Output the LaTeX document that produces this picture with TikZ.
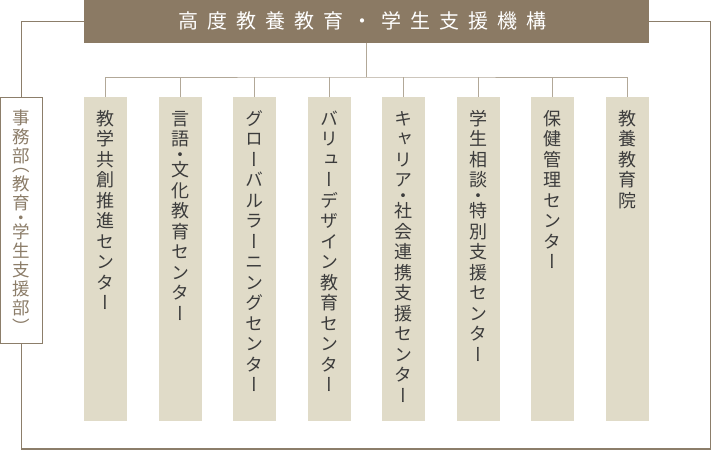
\documentclass[tikz,border=0pt]{standalone}
\usepackage{fontspec}
\usetikzlibrary{positioning}
\newfontfamily\jp{Noto Sans CJK JP}
\newfontfamily\jptate[RawFeature=+vert]{Noto Sans CJK JP}
\definecolor{kikobrown}{RGB}{139,122,100}
\definecolor{framebrown}{RGB}{140,126,106}
\definecolor{busgray}{RGB}{178,168,152}
\definecolor{colfill}{RGB}{224,219,200}
\definecolor{colink}{RGB}{60,60,60}
\definecolor{jimuink}{RGB}{140,125,105}
% vertical text, one slot per character
\newlength\tatepitch
\newcommand\tateslot[3]{\vbox to #1\tatepitch{\vss\hbox to 1em{\hss\raisebox{#2}[0pt][0pt]{#3}\hss}\vss}}
\newcommand\tatechar[1]{%
  \ifx#1・\tateslot{.5}{-.38em}{#1}%
  \else\ifx#1（\tateslot{.5}{-.1em}{#1}%
  \else\ifx#1）\tateslot{.5}{-.65em}{#1}%
  \else\tateslot{1}{-.38em}{#1}\fi\fi\fi}
\def\tateloop#1{\ifx#1\relax\else\tatechar{#1}\expandafter\tateloop\fi}
\newcommand\tate[2]{\setlength\tatepitch{#1}\vbox{\offinterlineskip\expandafter\tateloop#2\relax}}
\def\yokoloop#1{\ifx#1\relax\else#1\kern9pt\expandafter\yokoloop\fi}
\newcommand\yoko[1]{\yokoloop#1\relax}

\begin{document}
\begin{tikzpicture}[x=1pt,y=-1pt,
  kiko/.style={fill=kikobrown, minimum width=565pt, minimum height=42.5pt, inner sep=0, text=white, font=\jp\fontsize{20}{24}\selectfont},
  jimubox/.style={draw=framebrown, line width=1.2pt, fill=white, minimum width=42pt, minimum height=246pt, anchor=north},
  colbox/.style={fill=colfill, minimum width=43pt, minimum height=324pt, anchor=north, inner sep=0},
  tatetext/.style={inner sep=0, text=colink, font=\jptate\fontsize{18}{20}\selectfont},
  frame/.style={draw=framebrown, line width=1.2pt},
  bus/.style={draw=busgray, line width=1pt}]
\useasboundingbox (0,0) rectangle (712,450);
\node[kiko] (kiko) at (366.5,21.25) {\yoko{高度教養教育・学生支援機構}};
\node[jimubox] (jimu) at (21.5,97) {};
\node[tatetext, text=jimuink, font=\jptate\fontsize{17.5}{19}\selectfont, below=11pt of jimu.north] (jimutxt) {\tate{19pt}{事務部（教育・学生支援部）}};
\coordinate (corner) at (710.5,449);
\coordinate (bus) at (366.5,77);
\draw[frame] (kiko.west) -| (jimu.north);
\draw[frame] (jimu.south) |- (corner) |- (kiko.east);
\foreach \i/\txt in {1/教学共創推進センター,2/言語・文化教育センター,3/グローバルラーニングセンター,4/バリューデザイン教育センター,5/キャリア・社会連携支援センター,6/学生相談・特別支援センター,7/保健管理センター,8/教養教育院} {
    \node[colbox] (c\i) at ({105.5+(\i-1)*74.57},97) {};
    \node[tatetext, below=11pt of c\i.north] (t\i) {\tate{20.5pt}{\txt}};
}
\draw[bus] (kiko.south) -- (bus);
\draw[bus] (c1.north) |- (bus) -| (c8.north);
\foreach \i in {2,...,7}
    \draw[bus] (c\i.north) -- (c\i.north |- bus);
\end{tikzpicture}
\end{document}
